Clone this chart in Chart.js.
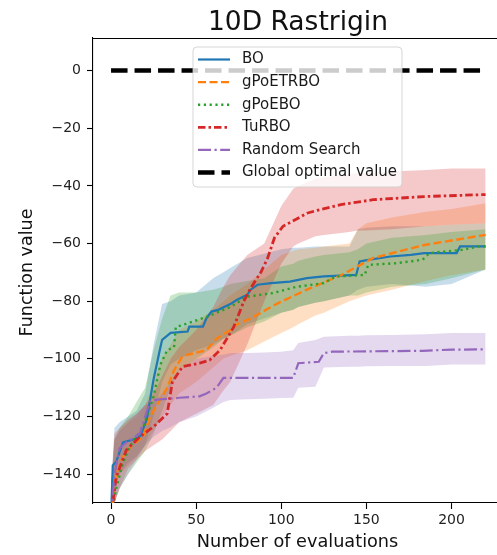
<!DOCTYPE html>
<html><head><meta charset="utf-8">
<script src="https://cdn.jsdelivr.net/npm/chart.js@4"></script>
<style>html,body{margin:0;padding:0;background:#fff;}canvas{display:block;}</style>
</head><body>
<canvas id="c" width="497" height="555"></canvas>
<script>
// ---------- data ----------
const seriesNames = ['BO', 'gPoETRBO', 'gPoEBO', 'TuRBO', 'Random Search'];
const optimalName = 'Global optimal value';
const chartTitle = '10D Rastrigin';
const xTitle = 'Number of evaluations';
const yTitle = 'Function value';
const xTicks = [0, 50, 100, 150, 200];
const yTicks = [-140, -120, -100, -80, -60, -40, -20, 0];

// mean curves
const boX = [0,1,3,7,13,17,21,25,29,30,35,45,46,54,56,59,63,70,74,80,82,86,94,105,115,125,144,146,152,164,176,184,203,205,220];
const boY = [-155,-137,-135.7,-129,-128,-127,-121,-107,-96,-93.4,-91,-90.5,-88.8,-88.8,-85.9,-83.6,-83,-81,-79.5,-77.8,-76,-74.3,-73.7,-73.2,-72,-71.4,-70.9,-66.2,-65.6,-64.5,-63.9,-63.3,-63.3,-61,-61];

const etX = [0,3,7,12,19,23,28,33,37,42,56,62,70,74,82,97,115,135,154,184,220];
const etY = [-155,-140,-134,-130,-127,-120,-115,-110,-104,-99,-97,-93,-90,-88,-86,-81,-76,-71,-65,-60.5,-57];

const geX = [0,3,7,11,15,19,25,29,33,37,38,46,58,70,80,95,109,125,132,149,151,168,183,187,206,216,220];
const geY = [-155,-145,-136,-130.5,-127,-123.5,-113,-102,-97,-96,-89,-87.5,-85,-82,-78.4,-77.2,-75,-73.7,-71.4,-70.9,-67.4,-66.8,-65.6,-63.3,-62.2,-61,-61];

const tuX = [0,3,9,17,25,33,36,42,52,58,64,72,78,82,88,92,96,101,109,115,121,135,154,184,220];
const tuY = [-155,-141,-131.6,-127,-123.5,-119,-108,-102.7,-101.5,-100.4,-97,-89,-80,-75.5,-70,-65,-58,-54,-51.5,-49.5,-48.5,-46.5,-44.8,-43.7,-43];

const rsX = [0,2,5,9,17,20,23,30,40,52,56,62,66,80,100,107,110,122,125,130,150,183,200,220];
const rsY = [-155,-140,-131,-129,-125.8,-120,-114.5,-114,-113.5,-113,-112,-110,-106.6,-106.6,-106.6,-106.6,-101.5,-101,-98,-97.5,-97.4,-97.2,-96.8,-96.7];

// uncertainty bands (common x grid)
const bandX = [0,2,5,10,15,20,25,30,35,40,50,60,66,70,80,90,100,107,110,120,125,140,145,150,165,185,200,220];
const boHi = [-145,-124,-122,-120,-118,-112,-95,-81,-80,-78,-77,-72,-70,-68.5,-65,-63.5,-62,-61.5,-61.5,-61,-61,-61,-55,-54.5,-54,-54,-53.5,-53];
const boLo = [-165,-145,-140,-136,-134,-130,-120,-108,-102,-100,-97,-95,-93,-92,-88,-86,-84,-83,-82,-80.5,-80,-78,-76,-75,-74,-75,-74,-69];
const etHi = [-145,-128,-125,-122,-120,-116,-108,-100,-95,-90,-87,-83,-80,-78,-74,-69,-64,-62.5,-62,-61.5,-61,-60,-55,-53,-51,-49,-48,-46];
const etLo = [-165,-145,-140,-137,-134,-130,-125,-120,-116,-112,-108,-103,-100,-99,-97,-94,-91,-89,-88,-85,-84,-80,-79,-78,-76,-73,-71,-69];
const geHi = [-145,-128,-124,-120,-115,-110,-97,-86,-78,-77,-77,-76,-75,-74,-73,-72,-68,-67,-66,-64.5,-64,-63,-62,-60,-58,-57,-56,-55];
const geLo = [-165,-150,-145,-140,-136,-132,-126,-118,-110,-104,-100,-96,-93,-92,-89,-87,-84,-83,-82,-80.5,-80,-78,-78,-77,-75,-74,-72,-69];
const tuHi = [-145,-126,-124,-121,-119,-116,-112,-106,-100,-96,-90,-82,-75,-71,-64,-60,-47,-41,-40,-37.5,-37,-36,-35.5,-35.5,-35,-34.5,-34,-34];
const tuLo = [-165,-150,-145,-138,-135,-132,-130,-128,-125,-122,-119,-116,-111,-108,-95,-80,-67,-61,-60,-57.5,-57,-56,-55.5,-55.5,-55,-54,-53.5,-53];
const rsHi = [-145,-128,-125,-122,-119,-116,-115,-112,-108,-104,-100,-99,-98.5,-98,-98,-97.8,-97.5,-97,-94.5,-93.5,-92.3,-92,-92,-91.8,-91.7,-91.5,-91,-91];
const rsLo = [-165,-150,-145,-140,-135,-130,-127,-125,-123.6,-122,-120,-117,-115,-114.3,-114,-113.8,-113.6,-113.5,-110,-109.7,-103,-102.7,-102.7,-102.6,-102.5,-102.5,-102,-102];

const optX = [0, 220];
const optY = [0, 0];

// ---------- styles ----------
const FONT = "'DejaVu Sans', 'Liberation Sans', sans-serif";
const colors = ['31,119,180', '255,127,14', '44,160,44', '214,39,40', '148,103,189'];
const dashes = [[], [8, 3.5], [2.2, 3.6], [7.5, 3, 2.5, 3], [13, 3.5, 2.2, 3.5]];
const widths = [2.2, 2.4, 2.4, 2.8, 2.2];
const optStyle = {color: '#000', width: 4.5, dash: [16.5, 7]};

const pts = (xs, ys) => xs.map((x, i) => ({x: x, y: ys[i]}));
const means = [[boX, boY], [etX, etY], [geX, geY], [tuX, tuY], [rsX, rsY]];
const bands = [[boLo, boHi], [etLo, etHi], [geLo, geHi], [tuLo, tuHi], [rsLo, rsHi]];

const datasets = [];
bands.forEach((b, i) => {
  datasets.push({label: seriesNames[i] + ' lo', data: pts(bandX, b[0]), borderWidth: 0, borderColor: 'rgba(0,0,0,0)',
    pointRadius: 0, fill: false, order: 40 - i, tension: 0});
  datasets.push({label: seriesNames[i] + ' hi', data: pts(bandX, b[1]), borderWidth: 0, borderColor: 'rgba(0,0,0,0)',
    pointRadius: 0, fill: '-1', backgroundColor: 'rgba(' + colors[i] + ',0.25)', order: 40 - i, tension: 0});
});
means.forEach((m, i) => {
  datasets.push({label: seriesNames[i], data: pts(m[0], m[1]), borderColor: 'rgb(' + colors[i] + ')',
    borderWidth: widths[i], borderDash: dashes[i], pointRadius: 0, fill: false, order: 20 - i, tension: 0,
    borderCapStyle: 'butt', borderJoinStyle: 'miter'});
});
datasets.push({label: optimalName, data: pts(optX, optY), borderColor: optStyle.color, borderWidth: optStyle.width,
  borderDash: optStyle.dash, pointRadius: 0, fill: false, order: 1, borderCapStyle: 'butt'});

const textPlugin = {
  id: 'texts',
  afterDraw(chart) {
    const ctx = chart.ctx, a = chart.chartArea;
    ctx.save();
    // top spine
    ctx.strokeStyle = '#000'; ctx.lineWidth = 1.1; ctx.setLineDash([]);
    ctx.beginPath(); ctx.moveTo(a.left, a.top + 0.5); ctx.lineTo(a.right, a.top + 0.5); ctx.stroke();
    ctx.fillStyle = '#111';
    ctx.textAlign = 'center'; ctx.textBaseline = 'alphabetic';
    ctx.font = '26.5px ' + FONT;
    ctx.fillText(chartTitle, 298, 30);
    ctx.font = '17.7px ' + FONT;
    ctx.fillText(xTitle, 297.5, 546.5);
    ctx.save();
    ctx.translate(31.5, 272.5); ctx.rotate(-Math.PI / 2);
    ctx.font = '17.5px ' + FONT;
    ctx.fillText(yTitle, 0, 0);
    ctx.restore();

    // legend
    const bx = 193, by = 47, bw = 209, bh = 140, r = 4;
    ctx.beginPath();
    ctx.moveTo(bx + r, by); ctx.lineTo(bx + bw - r, by); ctx.quadraticCurveTo(bx + bw, by, bx + bw, by + r);
    ctx.lineTo(bx + bw, by + bh - r); ctx.quadraticCurveTo(bx + bw, by + bh, bx + bw - r, by + bh);
    ctx.lineTo(bx + r, by + bh); ctx.quadraticCurveTo(bx, by + bh, bx, by + bh - r);
    ctx.lineTo(bx, by + r); ctx.quadraticCurveTo(bx, by, bx + r, by); ctx.closePath();
    ctx.fillStyle = 'rgba(255,255,255,0.8)'; ctx.fill();
    ctx.strokeStyle = 'rgba(204,204,204,0.8)'; ctx.lineWidth = 1; ctx.stroke();

    const items = seriesNames.map((n, i) => ({name: n, color: 'rgb(' + colors[i] + ')', dash: dashes[i], width: widths[i]}));
    items.push({name: optimalName, color: optStyle.color, dash: optStyle.dash, width: optStyle.width});
    ctx.font = '15px ' + FONT; ctx.textAlign = 'left'; ctx.textBaseline = 'middle';
    items.forEach((it, k) => {
      const y = 59.5 + k * 22.6;
      ctx.strokeStyle = it.color; ctx.lineWidth = it.width; ctx.setLineDash(it.dash); ctx.lineCap = 'butt';
      ctx.beginPath(); ctx.moveTo(198, y); ctx.lineTo(230, y); ctx.stroke();
      ctx.setLineDash([]);
      ctx.fillStyle = '#1a1a1a';
      ctx.fillText(it.name, 242, y);
    });
    ctx.restore();
  }
};

const fmt = v => (v < 0 ? '\u2212' + Math.abs(v) : String(v));

new Chart(document.getElementById('c'), {
  type: 'line',
  data: {datasets: datasets},
  options: {
    responsive: false, animation: false, devicePixelRatio: 1,
    layout: {padding: {top: 38, left: 0, right: 0, bottom: 0}},
    plugins: {legend: {display: false}, title: {display: false}, tooltip: {enabled: false}},
    scales: {
      x: {
        type: 'linear', min: -10.6, max: 226.7,
        afterFit: s => { s.height = 52; s.paddingLeft = 0; s.paddingRight = 0; },
        afterBuildTicks: s => { s.ticks = xTicks.map(v => ({value: v})); },
        ticks: {callback: fmt, color: '#222', font: {family: FONT, size: 14}, padding: 3, maxRotation: 0, autoSkip: false},
        grid: {display: true, drawOnChartArea: false, drawTicks: true, tickLength: 6, tickColor: '#000', tickWidth: 1.1},
        border: {display: true, color: '#000', width: 1.1}
      },
      y: {
        type: 'linear', min: -150, max: 11.3,
        afterFit: s => { s.width = 93; },
        afterBuildTicks: s => { s.ticks = yTicks.map(v => ({value: v})); },
        ticks: {callback: fmt, color: '#222', font: {family: FONT, size: 14}, padding: 6, autoSkip: false},
        grid: {display: true, drawOnChartArea: false, drawTicks: true, tickLength: 6, tickColor: '#000', tickWidth: 1.1},
        border: {display: true, color: '#000', width: 1.1}
      }
    }
  },
  plugins: [textPlugin]
});
</script>
</body></html>
